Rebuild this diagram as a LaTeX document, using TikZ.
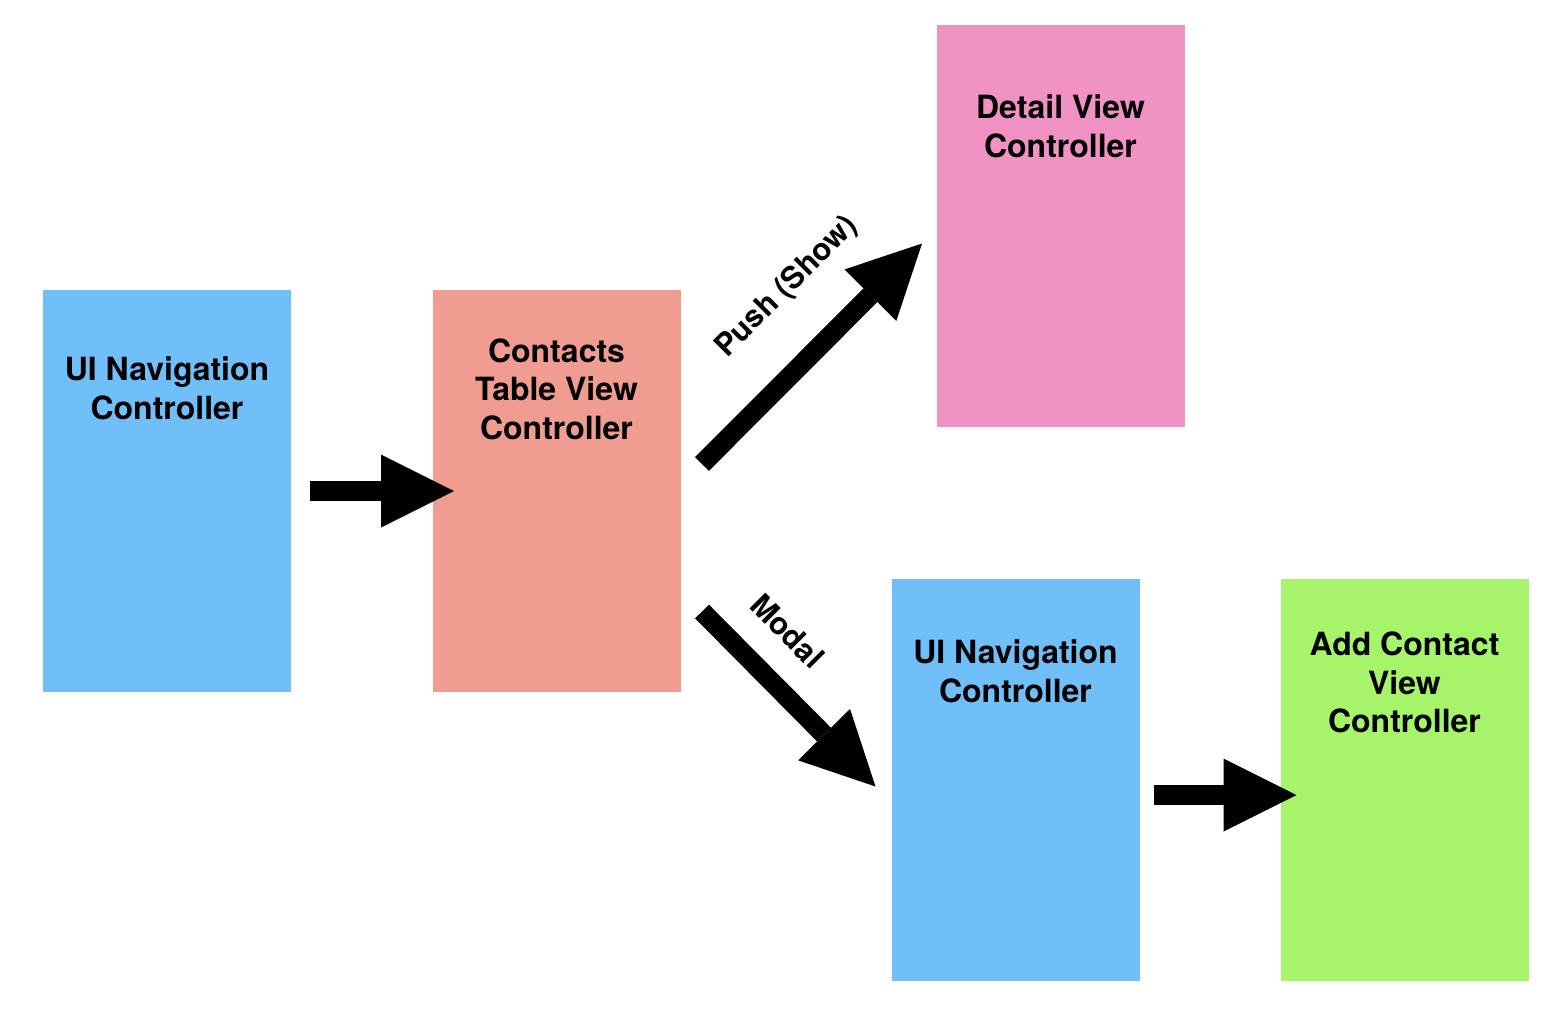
\documentclass[tikz,border=0pt]{standalone}
\usepackage{fontspec}
\setmainfont{TeX Gyre Heros}
\usetikzlibrary{calc}
\usetikzlibrary{arrows.meta}
\definecolor{navblue}{RGB}{113,191,248}
\definecolor{tablered}{RGB}{240,156,144}
\definecolor{detailpink}{RGB}{240,146,196}
\definecolor{addgreen}{RGB}{166,244,106}

\begin{document}
\begin{tikzpicture}[
  vc/.style={minimum width=4.96cm, minimum height=8.04cm, inner sep=0, outer sep=0},
  vctext/.style={align=center, font=\bfseries\fontsize{18.2}{22}\selectfont},
  segue/.style={line width=0.39cm, -{Triangle[length=1.46cm, width=1.46cm, line width=0pt]}},
  seguetext/.style={font=\bfseries\fontsize{17.5}{22}\selectfont}]
\useasboundingbox (0,0) rectangle (30.88,-20.28);
\node[vc, fill=navblue] (nav1) at (3.34,-9.82) {};
\node[vc, fill=tablered] (table) at (11.13,-9.82) {};
\node[vc, fill=detailpink] (detail) at (21.21,-4.51) {};
\node[vc, fill=navblue] (nav2) at (20.31,-15.59) {};
\node[vc, fill=addgreen] (add) at (28.09,-15.59) {};
\node[vctext] (nav1txt) at ([yshift=-1.97cm]nav1.north) {UI Navigation\\Controller};
\node[vctext] (tabletxt) at ([yshift=-1.98cm]table.north) {Contacts\\Table View\\Controller};
\node[vctext] (detailtxt) at ([yshift=-2.03cm]detail.north) {Detail View\\Controller};
\node[vctext] (nav2txt) at ([yshift=-1.85cm]nav2.north) {UI Navigation\\Controller};
\node[vctext] (addtxt) at ([yshift=-2.08cm]add.north) {Add Contact\\View\\Controller};
\draw[segue] ([xshift=0.38cm]nav1.east) -- ([xshift=0.43cm]table.west);
\draw[segue] ([shift={(0.43,0.54)}]table.east) -- ([shift={(-0.29,-0.36)}]detail.west);
\draw[segue] ([shift={(0.43,-2.41)}]table.east) -- ([shift={(-0.32,-0.14)}]nav2.west);
\draw[segue] ([shift={(0.28,-0.31)}]nav2.east) -- ([shift={(0.32,-0.31)}]add.west);
\node[seguetext, rotate=45] (pushlbl) at (15.74,-5.74) {Push (Show)};
\node[seguetext, rotate=-45] (modallbl) at (15.75,-12.62) {Modal};
\end{tikzpicture}
\end{document}
